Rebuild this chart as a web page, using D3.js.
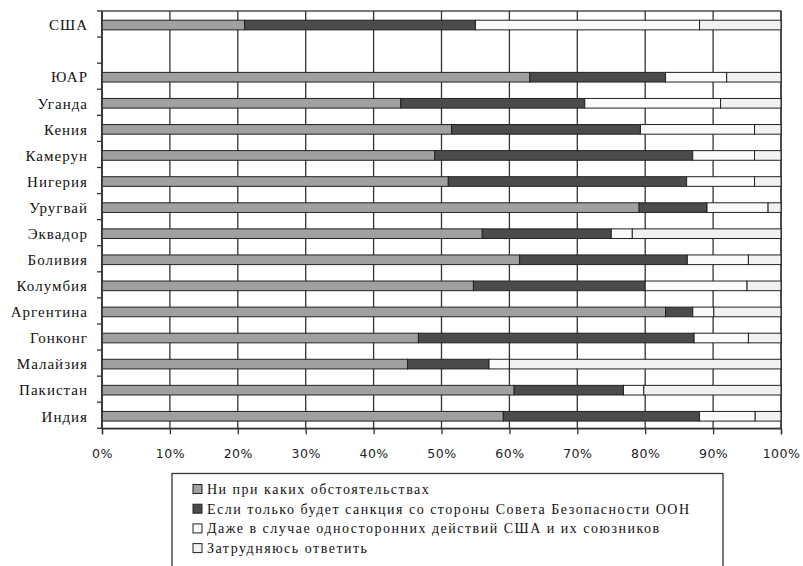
<!DOCTYPE html>
<html>
<head>
<meta charset="utf-8">
<script src="https://d3js.org/d3.v7.min.js"></script>
<style>
  body { margin: 0; background: #fff; }
  svg { display: block; }
</style>
</head>
<body>
<svg id="chart" width="803" height="566"></svg>
<script>
  // categories top to bottom, "" is the empty row under США
  const countries = ["США", "", "ЮАР", "Уганда", "Кения", "Камерун", "Нигерия", "Уругвай", "Эквадор",
    "Боливия", "Колумбия", "Аргентина", "Гонконг", "Малайзия", "Пакистан", "Индия"];

  const never = [21, null, 63, 44, 51.5, 49, 51, 79.1, 56, 61.5, 54.7, 83, 46.6, 45, 60.7, 59.1];
  const unOnly = [34, null, 20, 27.1, 27.8, 38, 35.1, 10, 19, 24.7, 25.3, 4, 40.6, 12, 16.1, 28.9];
  const unilateral = [33, null, 9, 20, 16.8, 9.1, 10, 9, 3.1, 9, 15, 3.1, 8, 3, 3, 8.2];
  const dontKnow = [12, null, 8, 8.9, 3.9, 3.9, 3.9, 1.9, 21.9, 4.8, 5, 9.9, 4.8, 40, 20.2, 3.8];

  const seriesNames = [
    "Ни при каких обстоятельствах",
    "Если только будет санкция со стороны Совета Безопасности ООН",
    "Даже в случае односторонних действий США и их союзников",
    "Затрудняюсь ответить"
  ];
  const xTicks = [0, 10, 20, 30, 40, 50, 60, 70, 80, 90, 100];

  const colors = ["#a0a0a0", "#4b4b4b", "#fafafa", "#f1f1f1"];
  const keys = ["never", "unOnly", "unilateral", "dontKnow"];
  const serif = "Liberation Serif, Times New Roman, DejaVu Serif, serif";

  const rows = countries.map((c, i) => ({
    country: c,
    never: never[i],
    unOnly: unOnly[i],
    unilateral: unilateral[i],
    dontKnow: dontKnow[i]
  }));

  const margin = { top: 11, left: 102 };
  const width = 679, height = 417.3;
  const rowH = height / countries.length;

  const svg = d3.select("#chart");
  const g = svg.append("g").attr("transform", `translate(${margin.left}, ${margin.top})`);

  const x = d3.scaleLinear().domain([0, 100]).range([0, width]);
  const y = d3.scaleBand().domain(countries.map((c, i) => i)).range([1, height + 1])
    .paddingInner(0.63).paddingOuter(0.315);

  // plot frame + vertical gridlines
  g.append("rect")
    .attr("width", width).attr("height", height)
    .attr("fill", "#fff").attr("stroke", "#333").attr("stroke-width", 1.3);

  g.selectAll(".grid")
    .data(xTicks)
    .enter().append("line")
    .attr("class", "grid")
    .attr("x1", d => x(d)).attr("x2", d => x(d))
    .attr("y1", 0).attr("y2", height)
    .attr("stroke", "#333").attr("stroke-width", 1.3);

  const stacked = d3.stack().keys(keys)(rows.filter(r => r.never != null));

  g.selectAll(".series")
    .data(stacked)
    .enter().append("g")
    .attr("class", "series")
    .attr("fill", (d, i) => colors[i])
    .selectAll("rect")
    .data(d => d)
    .enter().append("rect")
    .attr("x", d => x(d[0]))
    .attr("width", d => x(d[1]) - x(d[0]))
    .attr("y", d => y(countries.indexOf(d.data.country)))
    .attr("height", y.bandwidth())
    .attr("stroke", "#222")
    .attr("stroke-width", 1);

  // left axis: line, ticks between categories, labels
  g.append("line")
    .attr("x1", 0).attr("x2", 0).attr("y1", 0).attr("y2", height)
    .attr("stroke", "#333").attr("stroke-width", 1.3);

  g.selectAll(".ytick")
    .data(d3.range(countries.length + 1))
    .enter().append("line")
    .attr("class", "ytick")
    .attr("x1", -5).attr("x2", 0)
    .attr("y1", d => d * rowH).attr("y2", d => d * rowH)
    .attr("stroke", "#333").attr("stroke-width", 1.3);

  g.selectAll(".ylabel")
    .data(countries)
    .enter().append("text")
    .attr("class", "ylabel")
    .attr("x", -14)
    .attr("y", (d, i) => y(i) + y.bandwidth() / 2)
    .attr("dy", "0.35em")
    .attr("text-anchor", "end")
    .attr("font-family", serif)
    .attr("font-size", 15)
    .attr("letter-spacing", 1)
    .attr("fill", "#111")
    .text(d => d);

  // bottom axis
  const xAxis = g.append("g")
    .attr("transform", `translate(0, ${height})`)
    .attr("font-family", "DejaVu Sans")
    .attr("font-size", 12.5)
    .call(d3.axisBottom(x).tickValues(xTicks).tickFormat(d => d + "%").tickSize(6).tickPadding(15));

  xAxis.select(".domain").attr("stroke", "#333").attr("stroke-width", 1.3);
  xAxis.selectAll(".tick line").attr("stroke", "#333").attr("stroke-width", 1.3);
  xAxis.selectAll(".tick text")
    .attr("font-family", "DejaVu Sans")
    .attr("font-size", 12.5)
    .attr("letter-spacing", 0.5)
    .attr("fill", "#222");

  // legend
  const legend = svg.append("g").attr("transform", "translate(172, 473.5)");

  legend.append("rect")
    .attr("width", 551).attr("height", 110)
    .attr("fill", "#fff").attr("stroke", "#333").attr("stroke-width", 1.3);

  const item = legend.selectAll(".item")
    .data(seriesNames)
    .enter().append("g")
    .attr("class", "item")
    .attr("transform", (d, i) => `translate(21, ${15.5 + i * 19.7})`);

  item.append("rect")
    .attr("x", 0).attr("y", -4.5)
    .attr("width", 9).attr("height", 9)
    .attr("fill", (d, i) => colors[i])
    .attr("stroke", "#222").attr("stroke-width", 1);

  item.append("text")
    .attr("x", 14)
    .attr("dy", "0.35em")
    .attr("font-family", serif)
    .attr("font-size", 14)
    .attr("letter-spacing", 1.5)
    .attr("fill", "#111")
    .text(d => d);
</script>
</body>
</html>
